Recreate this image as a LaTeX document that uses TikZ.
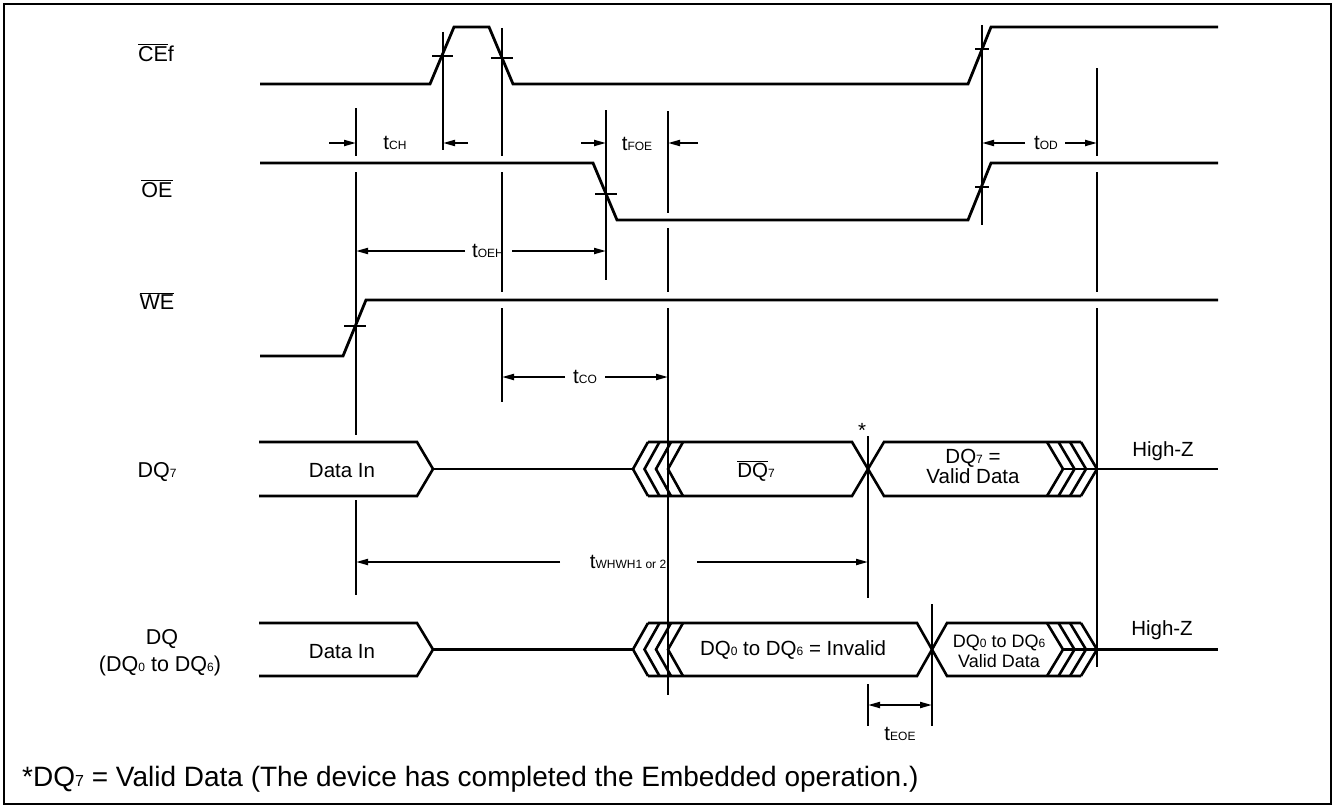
\documentclass[tikz,border=0pt]{standalone}
\usepackage{fontspec}
\setmainfont{Liberation Sans}
\usetikzlibrary{arrows.meta}
\newcommand{\smallsub}[1]{{\fontsize{12}{12}\selectfont #1}}
\newcommand{\ovl}[1]{$\overline{\mbox{#1}}$}
\begin{document}
\begin{tikzpicture}[x=1pt,y=-1pt,
  sig/.style={line width=2.8pt},
  bus/.style={line width=2.6pt},
  vline/.style={line width=2pt},
  tick/.style={line width=2pt},
  dim/.style={line width=2pt,-{Triangle[length=12pt,width=6pt]}},
  dimb/.style={line width=2pt,{Triangle[length=12pt,width=6pt]}-{Triangle[length=12pt,width=6pt]}},
  lbl/.style={inner sep=0pt,anchor=base,font=\fontsize{20.5}{24}\selectfont},
  rowlbl/.style={inner sep=0pt,anchor=base,font=\fontsize{21.5}{24}\selectfont},
  lbls/.style={inner sep=0pt,anchor=base,font=\fontsize{18}{20}\selectfont}]
\useasboundingbox (0,0) rectangle (1335,808);
\draw[line width=1.3pt] (4,4) rectangle (1331,804);

% ---- signals
\draw[sig] (260,84) -- (430,84) -- (454,27) -- (489,27) -- (513,84) -- (968,84) -- (991,27) -- (1218,27);
\draw[sig] (260,163) -- (593,163) -- (617,220) -- (968,220) -- (991,163) -- (1218,163);
\draw[sig] (260,356) -- (343,356) -- (366,300) -- (1218,300);

% ---- crossing ticks
\draw[tick] (432,56) -- (453,56);
\draw[tick] (491,58) -- (513,58);
\draw[tick] (975,49) -- (989,49);
\draw[tick] (595,194) -- (617,194);
\draw[tick] (975,187) -- (989,187);
\draw[tick] (344,326) -- (366,326);

% ---- vertical reference lines
\draw[vline] (443,32) -- (443,150);
\draw[vline] (356,108) -- (356,156) (356,172) -- (356,435) (356,500) -- (356,595);
\draw[vline] (502,28) -- (502,156) (502,172) -- (502,292) (502,308) -- (502,402);
\draw[vline] (606,110) -- (606,280);
\draw[vline] (668,111) -- (668,213) (668,228) -- (668,292) (668,308) -- (668,695);
\draw[vline] (982,25) -- (982,225);
\draw[vline] (1097,68) -- (1097,156) (1097,172) -- (1097,292) (1097,308) -- (1097,667);
\draw[vline] (868,436) -- (868,598) (868,684) -- (868,726);
\draw[vline] (932,604) -- (932,726);

% ---- DQ7 bus
\draw[bus] (259,442) -- (417,442) -- (433,469) -- (417,496) -- (259,496);
\draw[bus] (433,469) -- (633,469);
\foreach \a in {633,644.5,656,668} \draw[bus] ({\a+15},442) -- (\a,469) -- ({\a+15},496);
\draw[bus] (648,442) -- (852,442) -- (884,496) -- (1081,496);
\draw[bus] (648,496) -- (852,496) -- (884,442) -- (1081,442);
\foreach \b in {1063,1074.5,1086,1097} \draw[bus] ({\b-16},442) -- (\b,469) -- ({\b-16},496);
\draw[bus] (1063,469) -- (1218,469);

% ---- DQ bus
\draw[bus] (259,623) -- (417,623) -- (433,649.5) -- (417,676) -- (259,676);
\draw[bus] (433,649.5) -- (633,649.5);
\foreach \a in {633,644.5,656,668} \draw[bus] ({\a+15},623) -- (\a,649.5) -- ({\a+15},676);
\draw[bus] (648,623) -- (917,623) -- (947,676) -- (1081,676);
\draw[bus] (648,676) -- (917,676) -- (947,623) -- (1081,623);
\foreach \b in {1063,1074.5,1086,1097} \draw[bus] ({\b-16},623) -- (\b,649.5) -- ({\b-16},676);
\draw[bus] (1063,649.5) -- (1218,649.5);

% ---- timing arrows
\draw[dim] (329,143) -- (356,143);
\draw[dim] (468,143) -- (443,143);
\node[lbl] (tch) at (395,149) {t\smallsub{CH}};
\draw[dim] (581,143) -- (606,143);
\draw[dim] (698,143) -- (668,143);
\node[lbl] (tfoe) at (637,150) {t\smallsub{FOE}};
\draw[dim] (1025,143) -- (982,143);
\draw[dim] (1065,143) -- (1097,143);
\node[lbl] (tod) at (1046,149) {t\smallsub{OD}};
\draw[dim] (465,251) -- (356,251);
\draw[dim] (512,251) -- (606,251);
\node[lbl] (toeh) at (488,257) {t\smallsub{OEH}};
\draw[dim] (565,377) -- (502,377);
\draw[dim] (605,377) -- (668,377);
\node[lbl] (tco) at (585,383) {t\smallsub{CO}};
\draw[dim] (560,562) -- (356,562);
\draw[dim] (697,562) -- (868,562);
\node[lbl] (twh) at (628,568) {t\smallsub{WHWH1 or 2}};
\draw[dimb] (868,705) -- (932,705);
\node[lbl] (teoe) at (900,740) {t\smallsub{EOE}};

% ---- row labels
\node[rowlbl] (cef) at (156,61) {\ovl{CE}f};
\node[rowlbl] (oe) at (157,197) {\ovl{OE}};
\node[rowlbl] (we) at (157,309) {\ovl{WE}};
\node[rowlbl] (dq7) at (157,477) {DQ\smallsub{7}};
\node[rowlbl] (dq) at (162,644) {DQ};
\node[rowlbl] (dqr) at (160,671) {(DQ\smallsub{0} to DQ\smallsub{6})};

% ---- bus texts
\node[lbl] at (342,477) {Data In};
\node[lbl] at (342,658) {Data In};
\node[lbl] at (756,477) {\ovl{DQ}\smallsub{7}};
\node[lbl] at (973,463) {DQ\smallsub{7} =};
\node[lbl] at (973,483) {Valid Data};
\node[lbl] at (793,655) {DQ\smallsub{0} to DQ\smallsub{6} = Invalid};
\node[lbls] at (999,647) {DQ\smallsub{0} to DQ\smallsub{6}};
\node[lbls] at (999,667) {Valid Data};
\node[lbl] at (1163,456) {High-Z};
\node[lbl] at (1162,635) {High-Z};
\node[lbl] at (862,437) {*};

% ---- footnote
\node[inner sep=0pt,anchor=base west,font=\fontsize{28}{30}\selectfont] (fn) at (22,786) {*DQ{\fontsize{16}{16}\selectfont 7} = Valid Data (The device has completed the Embedded operation.)};
\end{tikzpicture}
\end{document}
